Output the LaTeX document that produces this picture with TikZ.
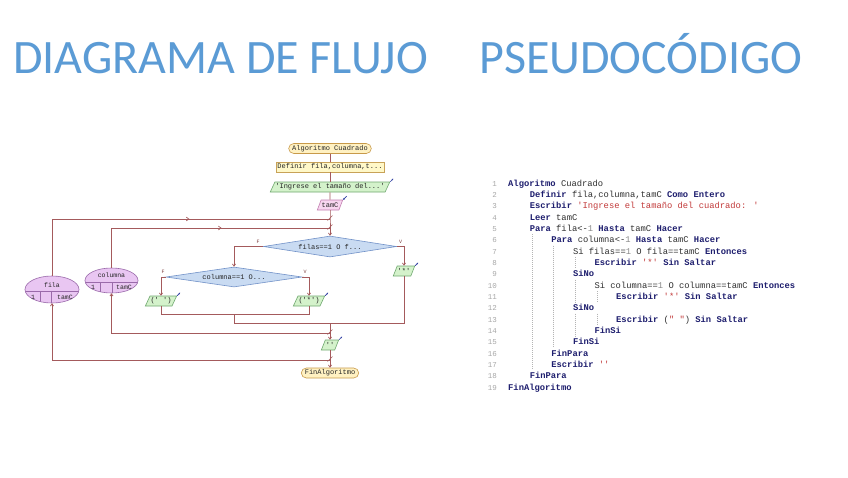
\documentclass[tikz,border=0pt]{standalone}
\usepackage{fontspec}
\setmainfont{Carlito}
\newfontfamily\monof{Liberation Mono}
\usetikzlibrary{shapes.geometric,arrows.meta,decorations.markings}
\definecolor{titleC}{HTML}{5B9BD5}
\definecolor{lineC}{HTML}{A45A5C}
\definecolor{termF}{HTML}{FFF1C2}
\definecolor{termD}{HTML}{C89A4A}
\definecolor{procF}{HTML}{FFF8C8}
\definecolor{procD}{HTML}{C8A258}
\definecolor{outF}{HTML}{D4F2CB}
\definecolor{outD}{HTML}{6FA86F}
\definecolor{inF}{HTML}{F8D6F0}
\definecolor{inD}{HTML}{C27EB0}
\definecolor{diaF}{HTML}{C9DBF2}
\definecolor{diaD}{HTML}{7292C8}
\definecolor{elF}{HTML}{E9C6F2}
\definecolor{elD}{HTML}{9A6AAA}
\definecolor{txtC}{HTML}{252525}
\definecolor{lblC}{HTML}{7A3A3A}
\definecolor{mkC}{HTML}{2A3AA0}
\definecolor{kwC}{HTML}{1E1E6E}
\definecolor{codeC}{HTML}{303030}
\definecolor{strC}{HTML}{C23A3A}
\definecolor{numC}{HTML}{8A8A8A}
\definecolor{lnC}{HTML}{A8A8A8}
\definecolor{guideC}{HTML}{B4B4B4}
\newcommand\pkw[1]{{\bfseries\color{kwC}#1}}
\newcommand\pst[1]{{\color{strC}#1}}
\newcommand\pnm[1]{{\color{numC}#1}}
\begin{document}
\begin{tikzpicture}[x=1pt,y=-1pt,
  fl/.style={draw=lineC, line width=0.7pt},
  tip/.style={-{Straight Barb[length=2.2pt,width=3.2pt]}},
  midarrow/.style={postaction={decorate}, decoration={markings, mark=at position 0.58 with {\arrow[lineC]{Straight Barb[length=2.6pt,width=3.8pt]}}}},
  fbox/.style={font=\monof\fontsize{7}{7}\selectfont, text=txtC, inner sep=1.5pt, minimum height=10pt, line width=0.6pt},
  term/.style={fbox, rounded corners=5pt, draw=termD, fill=termF, inner xsep=3.5pt},
  proc/.style={fbox, draw=procD, fill=procF},
  pio/.style={fbox, trapezium, trapezium left angle=64, trapezium right angle=116, trapezium stretches body, draw=outD, fill=outF, inner xsep=0.5pt},
  pin/.style={pio, draw=inD, fill=inF},
  dec/.style={fbox, diamond, aspect=6.5, inner sep=0pt, draw=diaD, fill=diaF},
  loopE/.style={ellipse, draw=elD, fill=elF, line width=0.6pt, inner sep=0pt},
  etxt/.style={font=\monof\fontsize{6.5}{6.5}\selectfont, text=txtC, inner sep=0pt},
  lbl/.style={font=\monof\fontsize{5}{5}\selectfont, text=lblC, inner sep=0.5pt},
  mk/.style={draw=mkC, line width=0.6pt, -{Stealth[length=1.6pt,width=1.8pt]}},
  ttl/.style={anchor=base west, font=\fontsize{48}{48}\selectfont, inner sep=0pt},
  code/.style={anchor=base west, font=\monof\fontsize{8.8}{8.8}\selectfont, text=codeC, inner sep=0pt},
  lnum/.style={anchor=base east, font=\monof\fontsize{7.5}{7.5}\selectfont, text=lnC, inner sep=0pt},
  guide/.style={draw=guideC, line width=0.5pt, dash pattern=on 1pt off 1pt}
]
\useasboundingbox (0,0) rectangle (848,477);
\fill[white] (0,0) rectangle (848,477);

% titles
\node[ttl, text=titleC] (t1) at (13,73) {DIAGRAMA DE FLUJO};
\node[ttl, text=titleC] (t2) at (479,73) {PSEUDOCÓDIGO};

% flowchart nodes
\node[term] (start) at (330,148.5) {Algoritmo Cuadrado};
\node[proc] (defs) at (330,167) {Definir fila,columna,t...};
\node[pio] (ing) at (330,187) {'Ingrese el tamaño del...'};
\node[pin] (tamc) at (330,205) {tamC};
\coordinate (j1) at (330,219);
\coordinate (j2) at (330,228);
\node[dec, minimum width=133pt, minimum height=21pt] (filas) at (330,246.5) {filas==1 O f...};
\node[dec, minimum width=136pt, minimum height=20pt] (colu) at (234,277) {columna==1 O...};
\node[pio] (sp) at (161,301) {(' ')};
\node[pio] (ast) at (309,301) {('*')};
\node[pio] (star) at (404,271) {'*'};
\coordinate (mi) at (234,314);
\coordinate (mo) at (234,323);
\coordinate (m2) at (330,323);
\coordinate (j3) at (330,333);
\node[pio] (blank) at (330,345) {''};
\coordinate (j4) at (330,360);
\node[term] (fin) at (330,373) {FinAlgoritmo};

% loop ellipses
\node[loopE, minimum width=54pt, minimum height=27pt] (fila) at (52,289.5) {};
\begin{scope}
  \clip (52,289.5) ellipse [x radius=27, y radius=13.5];
  \draw[draw=elD, line width=0.6pt] (20,291.5) -- (84,291.5) (40,291.5) -- (40,310) (51,291.5) -- (51,310);
\end{scope}
\node[etxt] (filaN) at (52,285) {fila};
\node[etxt] (filaA) at (33,297.5) {1};
\node[etxt] (filaB) at (65,297.5) {tamC};

\node[loopE, minimum width=53pt, minimum height=25pt] (col) at (111.5,280.5) {};
\begin{scope}
  \clip (111.5,280.5) ellipse [x radius=26.5, y radius=12.5];
  \draw[draw=elD, line width=0.6pt] (80,282) -- (142,282) (100,282) -- (100,300) (112,282) -- (112,300);
\end{scope}
\node[etxt] (colN) at (111.5,275.5) {columna};
\node[etxt] (colA) at (93,287.5) {1};
\node[etxt] (colB) at (124,287.5) {tamC};

% connectors
\draw[fl] (start) -- (defs);
\draw[fl] (defs) -- (ing);
\draw[fl] (ing) -- (tamc);
\draw[fl] (tamc) -- (j1) -- (j2);
\draw[fl, tip] (j2) -- (filas);
\draw[fl, midarrow] (fila.north) |- (j1);
\draw[fl, midarrow] (col.north) |- (j2);
\draw[fl, tip] (filas.west) -| (colu.north);
\draw[fl, tip] (filas.east) -| (star.north);
\draw[fl, tip] (colu.west) -| (sp.north);
\draw[fl, tip] (colu.east) -| (ast.north);
\draw[fl] (sp.south) |- (mi);
\draw[fl] (ast.south) |- (mi);
\draw[fl] (mi) -- (mo);
\draw[fl] (star.south) |- (mo);
\draw[fl] (m2) -- (j3);
\draw[fl, tip] (j3) -- (blank);
\draw[fl] (blank) -- (j4);
\draw[fl, tip] (j4) -- (fin);
\draw[fl, tip] (j3) -| (col.south);
\draw[fl, tip] (j4) -| (fila.south);

% junction slashes
\foreach \jj in {j1,j2,j3,j4} \draw[fl, line width=0.6pt] (\jj) ++(-2.5,1.5) -- ++(5,-5);

% branch labels
\node[lbl] (fF) at (258,241.5) {F};
\node[lbl] (fV) at (400.5,241.5) {V};
\node[lbl] (cF) at (163,272) {F};
\node[lbl] (cV) at (305,272) {V};

% io markers
\draw[mk] (ing.top right corner) -- ++(3,-3);
\draw[mk] (sp.top right corner) -- ++(3,-3);
\draw[mk] (ast.top right corner) -- ++(3,-3);
\draw[mk] (star.top right corner) -- ++(3,-3);
\draw[mk] (blank.top right corner) -- ++(3,-3);
\draw[mk] (tamc.top right corner) ++(3.5,-3.5) -- (tamc.top right corner);

% pseudocode line numbers
\node[lnum] (n1) at (497,186) {1};
\node[lnum] (n2) at (497,197.3) {2};
\node[lnum] (n3) at (497,208.7) {3};
\node[lnum] (n4) at (497,220) {4};
\node[lnum] (n5) at (497,231.3) {5};
\node[lnum] (n6) at (497,242.7) {6};
\node[lnum] (n7) at (497,254) {7};
\node[lnum] (n8) at (497,265.3) {8};
\node[lnum] (n9) at (497,276.7) {9};
\node[lnum] (n10) at (497,288) {10};
\node[lnum] (n11) at (497,299.3) {11};
\node[lnum] (n12) at (497,310.7) {12};
\node[lnum] (n13) at (497,322) {13};
\node[lnum] (n14) at (497,333.3) {14};
\node[lnum] (n15) at (497,344.7) {15};
\node[lnum] (n16) at (497,356) {16};
\node[lnum] (n17) at (497,367.3) {17};
\node[lnum] (n18) at (497,378.7) {18};
\node[lnum] (n19) at (497,390) {19};

% guides
\draw[guide] (532,234) -- (532,370);
\draw[guide] (553.7,245.5) -- (553.7,347);
\draw[guide] (575.3,257) -- (575.3,268);
\draw[guide] (575.3,279.5) -- (575.3,302);
\draw[guide] (575.3,313.5) -- (575.3,336);
\draw[guide] (597,291) -- (597,302);
\draw[guide] (597,313.5) -- (597,325);

% pseudocode
\node[code] (c1) at (508,186) {\pkw{Algoritmo} Cuadrado};
\node[code] (c2) at (529.6,197.3) {\pkw{Definir} fila,columna,tamC \pkw{Como Entero}};
\node[code] (c3) at (529.6,208.7) {\pkw{Escribir} \pst{'Ingrese el tamaño del cuadrado: '}};
\node[code] (c4) at (529.6,220) {\pkw{Leer} tamC};
\node[code] (c5) at (529.6,231.3) {\pkw{Para} fila<-\pnm{1} \pkw{Hasta} tamC \pkw{Hacer}};
\node[code] (c6) at (551.2,242.7) {\pkw{Para} columna<-\pnm{1} \pkw{Hasta} tamC \pkw{Hacer}};
\node[code] (c7) at (572.8,254) {Si filas==\pnm{1} O fila==tamC \pkw{Entonces}};
\node[code] (c8) at (594.4,265.3) {\pkw{Escribir} \pst{'*'} \pkw{Sin Saltar}};
\node[code] (c9) at (572.8,276.7) {\pkw{SiNo}};
\node[code] (c10) at (594.4,288) {Si columna==\pnm{1} O columna==tamC \pkw{Entonces}};
\node[code] (c11) at (616,299.3) {\pkw{Escribir} \pst{'*'} \pkw{Sin Saltar}};
\node[code] (c12) at (572.8,310.7) {\pkw{SiNo}};
\node[code] (c13) at (616,322) {\pkw{Escribir} (\pst{" "}) \pkw{Sin Saltar}};
\node[code] (c14) at (594.4,333.3) {\pkw{FinSi}};
\node[code] (c15) at (572.8,344.7) {\pkw{FinSi}};
\node[code] (c16) at (551.2,356) {\pkw{FinPara}};
\node[code] (c17) at (551.2,367.3) {\pkw{Escribir} \pst{''}};
\node[code] (c18) at (529.6,378.7) {\pkw{FinPara}};
\node[code] (c19) at (508,390) {\pkw{FinAlgoritmo}};
\end{tikzpicture}
\end{document}
